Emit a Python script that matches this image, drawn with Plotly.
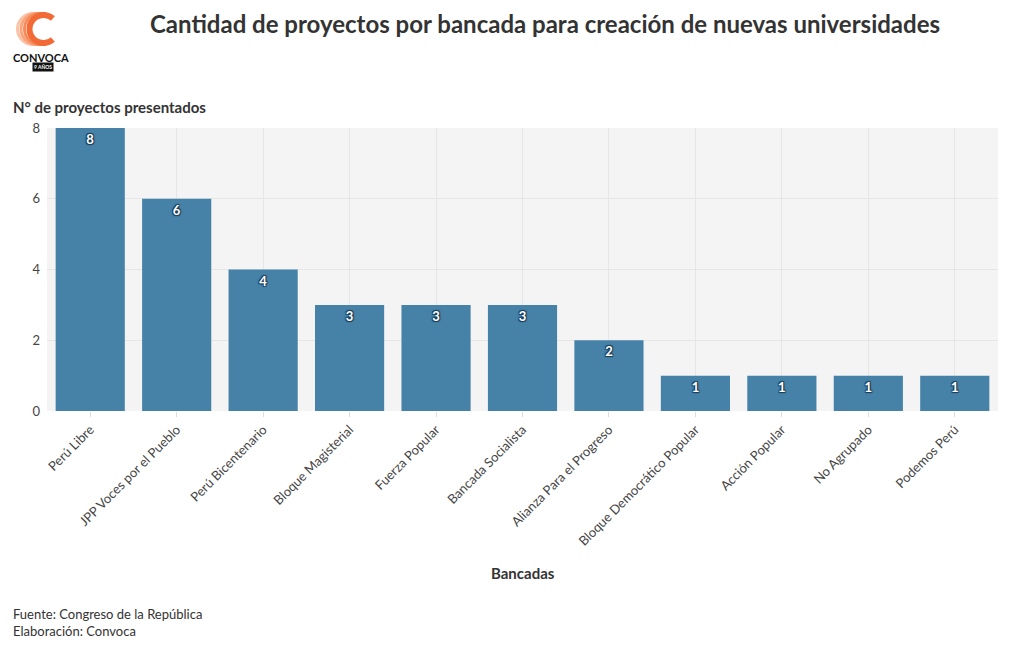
import math
import plotly.graph_objects as go

categorias = ["Perú Libre", "JPP Voces por el Pueblo", "Perú Bicentenario", "Bloque Magisterial",
              "Fuerza Popular", "Bancada Socialista", "Alianza Para el Progreso",
              "Bloque Democrático Popular", "Acción Popular", "No Agrupado", "Podemos Perú"]
proyectos = [8, 6, 4, 3, 3, 3, 2, 1, 1, 1, 1]
ticks_y = [0, 2, 4, 6, 8]

FONT = "Lato"
OFF = 8  # page body margin
W, H = 1020 - OFF, 650 - OFF
# screen-space plot area: x 47..998, y 128..411
ML, MT = 47 - OFF, 128 - OFF
MR = W - (998 - OFF)
MB = H - (411 - OFF)
pw = W - ML - MR
ph = H - MT - MB

def px(x):
    return (x - OFF - ML) / pw

def py(y):
    return (H - MB - (y - OFF)) / ph

fig = go.Figure(go.Bar(
    x=categorias, y=proyectos,
    marker=dict(color="#4682a8", line=dict(width=0)),
    text=[str(v) for v in proyectos],
    textposition="inside", insidetextanchor="end",
    textfont=dict(family=FONT, size=13, color="white", weight="bold",
                  shadow="1px 1px 1px #1c3d57, -1px -1px 1px #1c3d57, 1px -1px 1px #1c3d57, -1px 1px 1px #1c3d57"),
    cliponaxis=False, hoverinfo="x+y",
))

fig.update_layout(
    width=W, height=H,
    paper_bgcolor="white", plot_bgcolor="#f4f4f4",
    margin=dict(l=ML, r=MR, t=MT, b=MB, autoexpand=False),
    font=dict(family=FONT, size=13, color="#333333"),
    bargap=0.2, showlegend=False,
    title=dict(text="<b>Cantidad de proyectos por bancada para creación de nuevas universidades</b>",
               x=(545 - OFF) / W, xanchor="center", y=1 - (25 - OFF) / H, yanchor="middle",
               font=dict(family=FONT, size=24, color="#333333")),
    xaxis=dict(tickangle=-45, showgrid=True, gridcolor="#e6e6e6", ticks="outside", ticklen=5,
               tickcolor="#dddddd", tickfont=dict(size=13, color="#444444"), automargin=False),
    yaxis=dict(range=[0, 8], tickvals=ticks_y, showgrid=True, gridcolor="#e6e6e6", zeroline=False,
               tickfont=dict(size=13, color="#444444"), ticklabelstandoff=6, automargin=False),
    annotations=[
        dict(text="<b>N° de proyectos presentados</b>", xref="paper", yref="paper", x=px(11), y=py(107),
             xanchor="left", yanchor="middle", showarrow=False, font=dict(size=15, color="#333333")),
        dict(text="<b>Bancadas</b>", xref="paper", yref="paper", x=px(523), y=py(573),
             xanchor="center", yanchor="middle", showarrow=False, font=dict(size=15, color="#333333")),
        dict(text="Fuente: Congreso de la República<br>Elaboración: Convoca", xref="paper", yref="paper",
             x=px(11), y=py(622), xanchor="left", yanchor="middle", align="left", showarrow=False,
             font=dict(size=13, color="#333333")),
        dict(text="<b>CONVOCA</b>", xref="paper", yref="paper", x=px(41), y=py(57), xanchor="center",
             yanchor="middle", showarrow=False, font=dict(size=11, color="#111111")),
        dict(text="<b>9 AÑOS</b>", xref="paper", yref="paper", x=px(43), y=py(67), xanchor="center",
             yanchor="middle", showarrow=False, font=dict(size=5, color="white"),
             bgcolor="#111111", borderpad=1),
    ],
)

def arc_path(cx, cy, r, a0, a1, n=30):
    pts = []
    for k in range(n + 1):
        a = math.radians(a0 + (a1 - a0) * k / n)
        pts.append((cx + r * math.cos(a), cy - r * math.sin(a)))
    return pts

for i, (col, rr, th) in enumerate([("#fbc2a6", 17, 3), ("#f8a57d", 17, 3), ("#f58b5b", 17, 3), ("#f26b36", 17, 6)]):
    cx, cy = 33 + i * 3.5, 29
    outer = arc_path(cx, cy, rr, 48, 312)
    inner = arc_path(cx, cy, rr - th, 312, 48)
    pts = outer + inner
    d = "M " + " L ".join(f"{px(x):.5f},{py(y):.5f}" for x, y in pts) + " Z"
    fig.add_shape(type="path", xref="paper", yref="paper", path=d, fillcolor=col, line=dict(width=0))

fig.write_html("out.html")
